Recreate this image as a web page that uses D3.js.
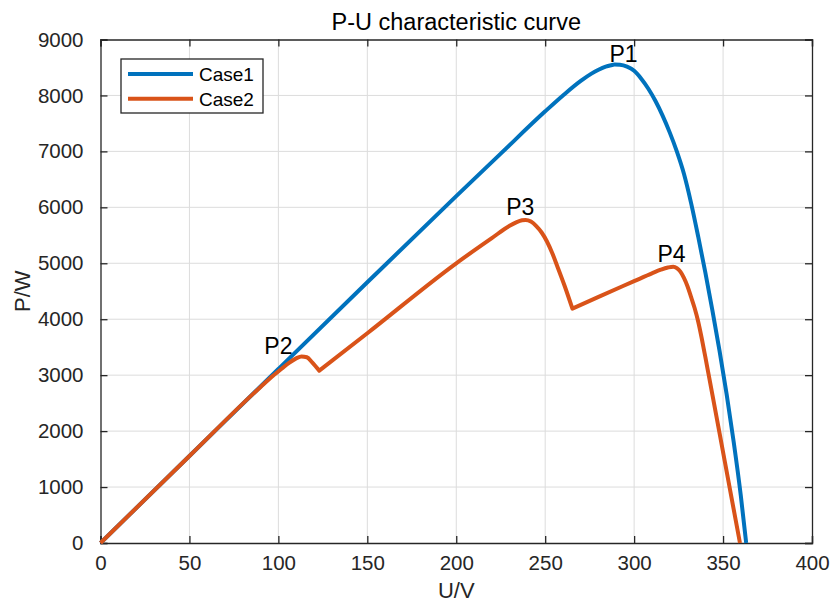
<!DOCTYPE html>
<html>
<head>
<meta charset="utf-8">
<script src="https://cdn.jsdelivr.net/npm/d3@7"></script>
<style>
  html, body { margin: 0; padding: 0; background: #fff; }
  svg { display: block; }
  text { font-family: "Liberation Sans", Arial, Helvetica, sans-serif; }
</style>
</head>
<body>
<svg id="chart" width="832" height="603"></svg>
<script>
// ---- data ----
const chartTitle = "P-U characteristic curve";
const xLabel = "U/V";
const yLabel = "P/W";
const xTicks = [0, 50, 100, 150, 200, 250, 300, 350, 400];
const yTicks = [0, 1000, 2000, 3000, 4000, 5000, 6000, 7000, 8000, 9000];
const seriesNames = ["Case1", "Case2"];

const case1U = [0, 50, 100, 150, 200, 225, 250, 260, 270, 276, 280, 284, 287, 289, 292, 296, 300, 304, 308, 312, 316, 320, 324, 328, 332, 336, 340, 344, 348, 352, 356, 360, 363];
const case1P = [0, 1555, 3110, 4660, 6200, 6960, 7716, 8000, 8260, 8390, 8460, 8515, 8540, 8552, 8548, 8515, 8440, 8300, 8120, 7900, 7640, 7340, 7000, 6600, 6080, 5480, 4840, 4160, 3440, 2660, 1800, 840, 0];

const case2U = [0, 50, 90, 97, 102, 106, 110, 113, 116, 119, 123, 150, 200, 220, 230, 234, 237, 239, 242, 245, 248, 251, 254, 257, 261, 265.3, 280, 300, 310, 315, 319, 322, 324, 326, 328, 330, 332, 334, 336, 338, 340, 342, 348, 353.7, 359.5];
const case2P = [0, 1555, 2790, 2990, 3120, 3220, 3300, 3335, 3320, 3230, 3080, 3750, 5000, 5450, 5670, 5735, 5768, 5775, 5745, 5665, 5550, 5390, 5180, 4930, 4590, 4190, 4400, 4680, 4820, 4885, 4925, 4940, 4915, 4850, 4740, 4590, 4400, 4200, 3960, 3660, 3330, 2990, 1970, 990, 0];
// voltages where Case2 has a sharp corner (bypass-diode switching points)
const case2Corners = [123, 265.3];

const peakNames = ["P1", "P2", "P3", "P4"];
const peakU = [294, 100, 236, 321];
const peakP = [8592, 3381, 5868, 5014];

// ---- layout ----
const svg = d3.select("#chart");
const L = 100.5, R = 812, T = 39.5, B = 543;
const x = d3.scaleLinear().domain([0, 400]).range([L, R]);
const y = d3.scaleLinear().domain([0, 9000]).range([B, T]);
const colors = ["#0072BD", "#D95319"];
const axisColor = "#262626";

// grid
svg.append("g").selectAll("line").data(xTicks.slice(1, -1)).join("line")
  .attr("x1", d => x(d)).attr("x2", d => x(d)).attr("y1", T).attr("y2", B)
  .attr("stroke", "#dcdcdc").attr("stroke-width", 1);
svg.append("g").selectAll("line").data(yTicks.slice(1, -1)).join("line")
  .attr("x1", L).attr("x2", R).attr("y1", d => y(d)).attr("y2", d => y(d))
  .attr("stroke", "#dcdcdc").attr("stroke-width", 1);

// axes (ticks inward)
const tickLen = 7;
const xAxisB = d3.axisBottom(x).tickValues(xTicks).tickSize(-tickLen).tickPadding(12).tickFormat(d3.format("d"));
const xAxisT = d3.axisTop(x).tickValues(xTicks).tickSize(-tickLen).tickFormat("");
const yAxisL = d3.axisLeft(y).tickValues(yTicks).tickSize(-tickLen).tickPadding(17).tickFormat(d3.format("d"));
const yAxisR = d3.axisRight(y).tickValues(yTicks).tickSize(-tickLen).tickFormat("");

function styleAxis(g) {
  g.select(".domain").attr("stroke", axisColor).attr("stroke-width", 1.3);
  g.selectAll(".tick line").attr("stroke", axisColor).attr("stroke-width", 1.3);
  g.selectAll(".tick text").attr("fill", axisColor).style("font-size", "20.5px")
    .style("font-family", "'Liberation Sans', Arial, sans-serif");
}
svg.append("g").attr("transform", `translate(0,${B})`).call(xAxisB).call(styleAxis);
svg.append("g").attr("transform", `translate(0,${T})`).call(xAxisT).call(styleAxis);
svg.append("g").attr("transform", `translate(${L},0)`).call(yAxisL).call(styleAxis);
svg.append("g").attr("transform", `translate(${R},0)`).call(yAxisR).call(styleAxis);

// lines: smooth (monotone) pieces, split at sharp corners
const lineGen = d3.line().x(d => x(d[0])).y(d => y(d[1])).curve(d3.curveMonotoneX);
function piecewisePath(U, P, corners) {
  const pts = d3.zip(U, P);
  const pieces = [];
  let cur = [];
  pts.forEach(p => {
    cur.push(p);
    if (corners.includes(p[0])) { pieces.push(cur); cur = [p]; }
  });
  if (cur.length > 1) pieces.push(cur);
  return pieces.map((pc, i) => {
    const d = lineGen(pc);
    return i === 0 ? d : "L" + d.slice(1);
  }).join("");
}
const paths = [piecewisePath(case1U, case1P, []), piecewisePath(case2U, case2P, case2Corners)];
paths.forEach((d, i) => {
  svg.append("path").attr("d", d)
    .attr("fill", "none").attr("stroke", colors[i]).attr("stroke-width", 4)
    .attr("stroke-linejoin", "round").attr("stroke-linecap", "butt");
});

// peak labels
svg.append("g").selectAll("text").data(peakNames).join("text")
  .attr("x", (d, i) => x(peakU[i])).attr("y", (d, i) => y(peakP[i]))
  .attr("text-anchor", "middle").attr("fill", "#000").style("font-size", "23px")
  .text(d => d);

// title
svg.append("text").attr("x", (L + R) / 2).attr("y", 30).attr("text-anchor", "middle")
  .attr("fill", "#000").style("font-size", "23.5px").text(chartTitle);

// axis labels
svg.append("text").attr("x", (L + R) / 2).attr("y", 598).attr("text-anchor", "middle")
  .attr("fill", axisColor).style("font-size", "22px").text(xLabel);
svg.append("text").attr("transform", `translate(30,${(T + B) / 2}) rotate(-90)`)
  .attr("text-anchor", "middle").attr("fill", axisColor).style("font-size", "22px").text(yLabel);

// legend
const lg = svg.append("g");
lg.append("rect").attr("x", 121).attr("y", 59).attr("width", 142).attr("height", 54)
  .attr("fill", "#fff").attr("stroke", axisColor).attr("stroke-width", 1.3);
seriesNames.forEach((n, i) => {
  const yy = 74 + i * 24.7;
  lg.append("line").attr("x1", 128).attr("x2", 193).attr("y1", yy).attr("y2", yy)
    .attr("stroke", colors[i]).attr("stroke-width", 4);
  lg.append("text").attr("x", 199).attr("y", yy + 7).attr("fill", "#000")
    .style("font-size", "19px").text(n);
});
</script>
</body>
</html>
